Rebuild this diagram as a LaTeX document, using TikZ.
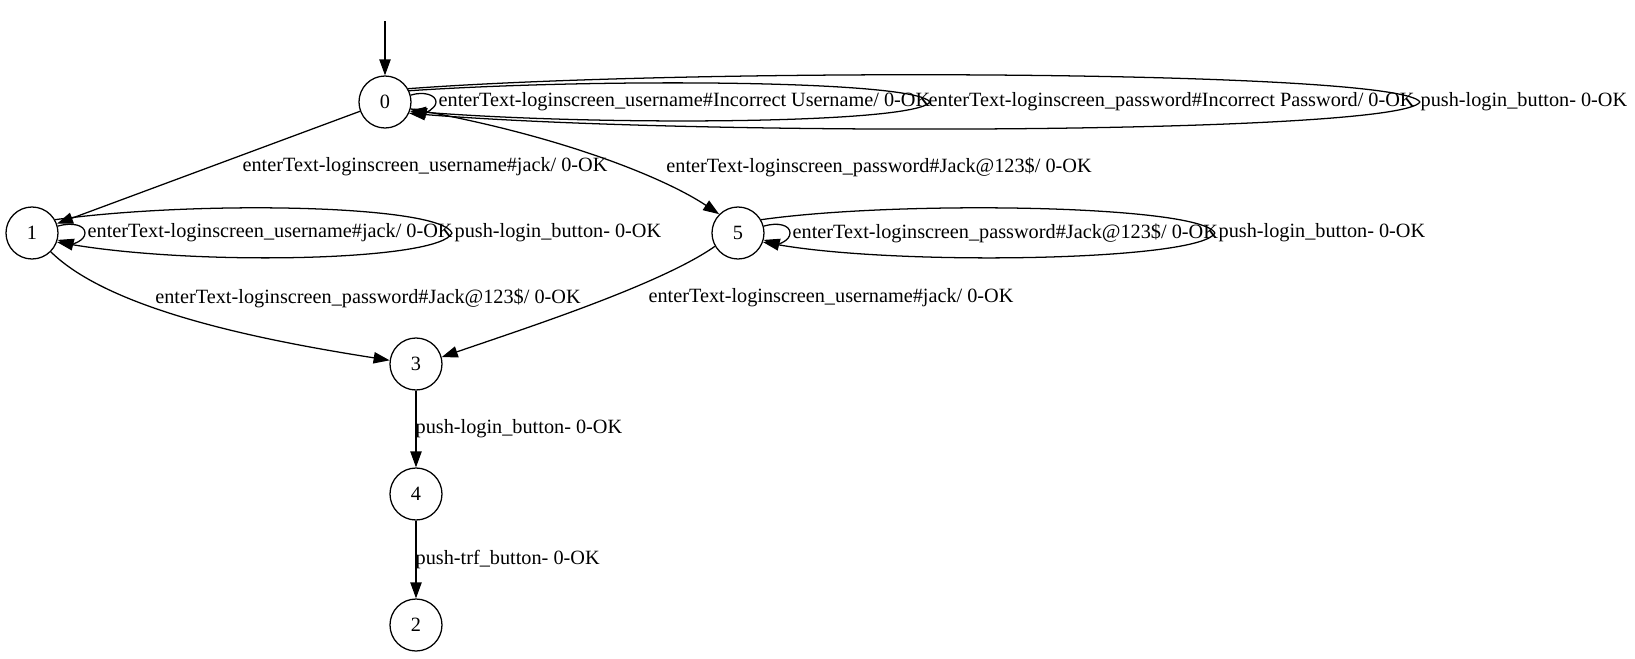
\documentclass[tikz,border=0pt]{standalone}
\usepackage{fontspec}
\setmainfont{Liberation Serif}
\usetikzlibrary{arrows.meta}
\begin{document}
\begin{tikzpicture}[x=0.75pt, y=-0.75pt, font=\fontsize{15.2}{18}\selectfont,
	line join=round, line width=0.95pt,
	>={Triangle[length=12pt,width=8.5pt]},
	stnode/.style={draw, circle, minimum size=39pt, inner sep=0pt},
	lbl/.style={inner sep=0pt, anchor=west}
	]
	\useasboundingbox (0,0) rectangle (1635,658);
	% states
	\node[stnode] (n0) at (385,102) {0};
	\node[stnode] (n1) at (32,233) {1};
	\node[stnode] (n5) at (738,233) {5};
	\node[stnode] (n3) at (416,364) {3};
	\node[stnode] (n4) at (416,494) {4};
	\node[stnode] (n2) at (416,625) {2};
	\coordinate (init) at (385,21);
	% labels
	\node[lbl] (t0a) at (438,102) {enterText-loginscreen\_username\#Incorrect Username/ 0-OK};
	\node[lbl] (t0b) at (928,102) {enterText-loginscreen\_password\#Incorrect Password/ 0-OK};
	\node[lbl] (t0c) at (1420,102) {push-login\_button- 0-OK};
	\node[lbl, anchor=center] (t01) at (425,167) {enterText-loginscreen\_username\#jack/ 0-OK};
	\node[lbl, anchor=center] (t05) at (879,167) {enterText-loginscreen\_password\#Jack@123\$/ 0-OK};
	\node[lbl] (t1a) at (87,233) {enterText-loginscreen\_username\#jack/ 0-OK};
	\node[lbl] (t1b) at (454,233) {push-login\_button- 0-OK};
	\node[lbl] (t5a) at (792,233) {enterText-loginscreen\_password\#Jack@123\$/ 0-OK};
	\node[lbl] (t5b) at (1218,233) {push-login\_button- 0-OK};
	\node[lbl, anchor=center] (t13) at (368,298) {enterText-loginscreen\_password\#Jack@123\$/ 0-OK};
	\node[lbl, anchor=center] (t53) at (831,298) {enterText-loginscreen\_username\#jack/ 0-OK};
	\node[lbl] (t34) at (415,429) {push-login\_button- 0-OK};
	\node[lbl] (t42) at (415,560) {push-trf\_button- 0-OK};
	% transitions
	\draw[->] (init) -- (n0);
	\draw[->] (n0) -- (n1);
	\draw[->] (n0.-15) .. controls (560,135) and (665,178) .. (n5.135);
	\draw[->] (n1.-45) .. controls (110,310) and (260,340) .. (n3.172);
	\draw[->] (n5.-150) .. controls (660,285) and (520,330) .. (n3.15);
	\draw[->] (n3) -- (n4);
	\draw[->] (n4) -- (n2);
	% self loops
	\draw[->] (n0.15) .. controls (424,91) and (436,95) .. (436,102)
		.. controls (436,109) and (424,113) .. (n0.-15);
	\draw[->] (n0.25) .. controls (600,78) and (915,80) .. (930,102)
		.. controls (915,124) and (600,126) .. (n0.-20);
	\draw[->] (n0.30) .. controls (700,67) and (1400,70) .. (1420,102)
		.. controls (1400,134) and (700,137) .. (n0.-25);
	\draw[->] (n1.15) .. controls (72,222) and (85,225) .. (85,233)
		.. controls (85,241) and (72,244) .. (n1.-15);
	\draw[->] (n1.30) .. controls (200,200) and (440,205) .. (452,233)
		.. controls (440,261) and (200,266) .. (n1.-20);
	\draw[->] (n5.15) .. controls (778,222) and (790,225) .. (790,233)
		.. controls (790,241) and (778,244) .. (n5.-15);
	\draw[->] (n5.30) .. controls (900,200) and (1200,205) .. (1215,233)
		.. controls (1200,261) and (900,266) .. (n5.-20);
\end{tikzpicture}
\end{document}
